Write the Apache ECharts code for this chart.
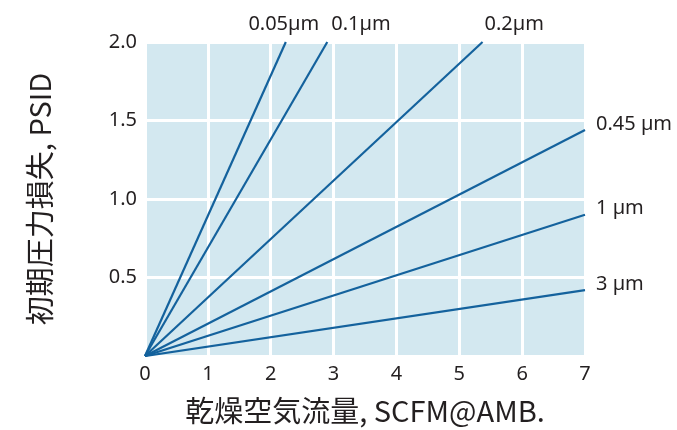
<!DOCTYPE html>
<html>
<head>
<meta charset="utf-8">
<script src="https://cdn.jsdelivr.net/npm/echarts@6/dist/echarts.min.js"></script>
<style>html,body{margin:0;padding:0;background:#fff}#c{width:677px;height:430px}</style>
</head>
<body>
<div id="c"></div>
<script>
const seriesNames = ['0.05µm', '0.1µm', '0.2µm', '0.45 µm', '1 µm', '3 µm'];
const endX = [2.24, 2.9, 5.37, 7, 7, 7];
const endY = [2, 2, 2, 1.44, 0.9, 0.42];
const labelOffsets = [[-2, -18], [4, -18], [2, -18], [11, -6], [11, -6], [11, -6]];
const labelAlign = ['center', 'left', 'left', 'left', 'left', 'left'];
const xTicks = [0, 1, 2, 3, 4, 5, 6, 7];
const yTicks = [0.5, 1.0, 1.5, 2.0];

const FONT = '"Noto Sans", "Noto Sans CJK JP", sans-serif';
const CJK = '"Noto Sans CJK JP", "Noto Sans", sans-serif';
const TXT = '#231f20';

const chart = echarts.init(document.getElementById('c'));
chart.setOption({
  animation: false,
  grid: { left: 145, right: 92, top: 42, bottom: 73, show: true, backgroundColor: '#d3e8f0', borderWidth: 0 },
  xAxis: {
    type: 'value', min: 0, max: 7, interval: 1,
    name: '乾燥空気流量, SCFM@AMB.', nameLocation: 'middle', nameGap: 40,
    nameTextStyle: { fontSize: 29, color: TXT, fontFamily: CJK },
    axisLine: { show: false }, axisTick: { show: false },
    axisLabel: { fontSize: 20, color: TXT, fontFamily: FONT, margin: 8,
      formatter: v => xTicks.includes(v) ? String(v) : '' },
    splitLine: { show: true, lineStyle: { color: '#ffffff', width: 3 } }
  },
  yAxis: {
    type: 'value', min: 0, max: 2, interval: 0.5,
    name: '初期圧力損失, PSID', nameLocation: 'middle', nameGap: 91,
    nameTextStyle: { fontSize: 29, color: TXT, fontFamily: CJK },
    axisLine: { show: false }, axisTick: { show: false },
    axisLabel: { fontSize: 20, color: TXT, fontFamily: FONT, margin: 8,
      formatter: v => yTicks.includes(v) ? v.toFixed(1) : '' },
    splitLine: { show: true, lineStyle: { color: '#ffffff', width: 3 } }
  },
  series: seriesNames.map((n, i) => ({
    type: 'line', name: n, showSymbol: false, symbol: 'none',
    lineStyle: { color: '#14629d', width: 2.2 },
    data: [[0, 0], [endX[i], endY[i]]],
    endLabel: { show: true, formatter: n, fontSize: 20, color: TXT, fontFamily: FONT,
      offset: labelOffsets[i], align: labelAlign[i], distance: 0 }
  }))
});
</script>
</body>
</html>
